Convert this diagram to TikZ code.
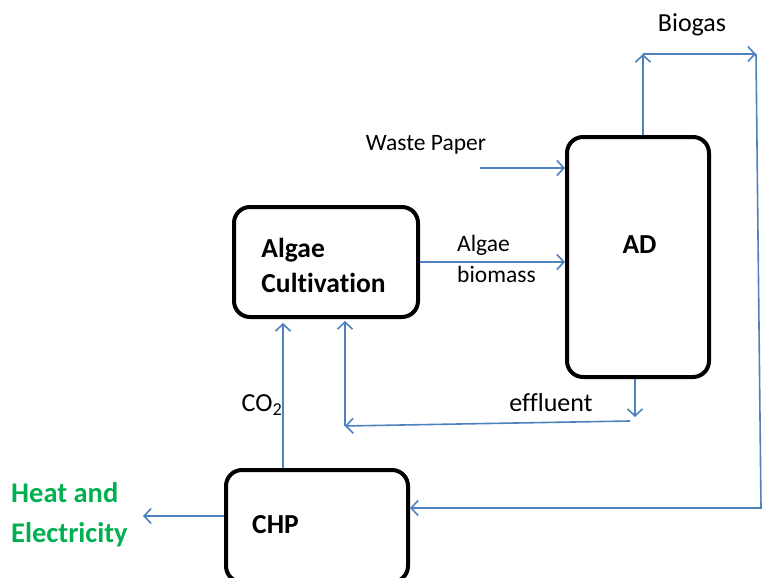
\documentclass[tikz,border=0pt]{standalone}
\usepackage{fontspec}
\setmainfont{Carlito}[Ligatures={NoCommon}]
\usetikzlibrary{arrows.meta}
\definecolor{flow}{RGB}{79,129,189}
\definecolor{hegreen}{RGB}{0,176,80}
\begin{document}
\begin{tikzpicture}[x=1pt,y=-1pt,
  box/.style={draw=black, line width=4pt, rounded corners=16pt, fill=white, inner sep=0pt},
  flowline/.style={draw=flow, line width=1.6pt, -{Straight Barb[length=7pt,width=15pt,line width=1.6pt]}},
  lab/.style={font=\fontsize{26}{32}\selectfont, inner sep=0pt},
  smalllab/.style={font=\fontsize{23.5}{31}\selectfont, inner sep=0pt, align=left},
  blab/.style={font=\fontsize{27.5}{35}\selectfont\bfseries, inner sep=0pt, align=left},
  ]
\useasboundingbox (0,0) rectangle (763,578);

% boxes
\node[box, minimum width=184pt, minimum height=110pt] (alg) at (326,262) {};
\node[blab] (algt) at (323.5,265) {Algae\\Cultivation};
\node[box, minimum width=142pt, minimum height=240pt] (ad) at (638,257) {};
\node[blab] (adt) at (639.5,245) {AD};
\node[box, minimum width=182pt, minimum height=112pt] (chp) at (317,526) {};
\node[blab] (chpt) at (275.5,525) {CHP};

% coordinates
\coordinate (wp) at (480,168);
\coordinate (bg1) at (643,54);
\coordinate (bg2) at (756,54);
\coordinate (bg3) at (761,508);
\coordinate (ef1) at (635,417);
\coordinate (ef2) at (630,421);
\coordinate (ef3) at (345,426);
\coordinate (cox) at (283,400);
\coordinate (heat) at (143,516);

% connectors
\draw[flowline] (wp) -- (ad.west |- wp);
\draw[flowline] (alg.east) -- (ad.west |- alg.east);
\draw[flowline] (ad.north -| bg1) -- (bg1);
\draw[flowline] (bg1) -- (bg2);
\draw[flowline] (bg2) -- (bg3) -- (chp.east |- bg3);
\draw[flowline] (ad.south -| ef1) -- (ef1);
\draw[flowline] (ef2) -- (ef3);
\draw[flowline, shorten >=2pt] (ef3) -- (ef3 |- alg.south);
\draw[flowline, shorten >=4pt] (chp.north -| cox) -- (alg.south -| cox);
\draw[flowline] (chp.west |- heat) -- (heat);

% labels
\node[lab] (biogas) at (692,25) {Biogas};
\node[smalllab] (wpl) at (426,145) {Waste Paper};
\node[smalllab, anchor=west] (bml) at (457,259) {Algae\\biomass};
\node[lab] (effl) at (551,403) {effluent};
\node[lab] (co2l) at (262,405) {CO\textsubscript{2}};
\node[blab, text=hegreen, font=\fontsize{28.5}{40}\selectfont\bfseries, anchor=west] (hel) at (11,515) {Heat and\\Electricity};
\end{tikzpicture}
\end{document}
